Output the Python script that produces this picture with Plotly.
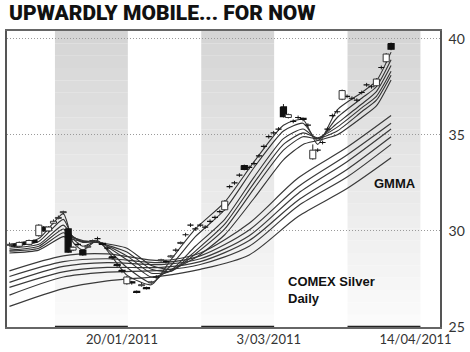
import plotly.graph_objects as go

# ---------------- data ----------------
days = list(range(79))
opens = [29.25,29.3,29.2,29.4,29.3,29.5,29.75,30.2,30.0,30.4,30.65,30.95,30.1,29.0,29.3,29.0,29.15,29.45,29.6,29.35,
         29.1,28.65,28.25,27.95,27.25,27.35,26.85,27.15,27.05,27.3,27.6,28.45,28.4,28.65,29.0,29.35,29.8,30.3,30.1,30.3,
         30.2,30.5,30.7,31.0,31.1,32.3,32.5,32.9,33.4,33.3,33.5,33.9,34.4,34.9,35.1,35.3,36.45,35.9,35.7,35.9,
         35.85,35.5,33.75,34.2,34.6,35.3,36.0,36.2,36.85,37.0,36.9,36.8,37.2,37.6,37.5,37.55,38.5,38.8,39.75]
closes = [29.3,29.2,29.4,29.3,29.5,29.4,30.3,30.0,30.2,30.5,30.7,31.0,28.9,29.15,29.3,28.75,29.2,29.5,29.6,29.3,
          29.1,28.6,28.2,27.9,27.6,27.3,26.8,27.2,27.0,27.35,27.6,28.5,28.4,28.7,29.0,29.4,29.8,30.3,30.1,30.3,
          30.2,30.5,30.7,31.0,31.55,32.3,32.5,32.9,33.2,33.3,33.5,33.9,34.4,34.9,35.1,35.3,35.95,36.05,35.7,35.9,
          35.8,35.5,34.2,34.2,34.6,35.3,36.0,36.2,37.3,37.0,36.9,36.8,37.2,37.6,37.5,37.9,38.5,39.2,39.45]
highs = [29.4,29.35,29.45,29.45,29.55,29.55,30.35,30.25,30.25,30.6,30.8,31.05,30.15,29.2,29.4,29.05,29.3,29.55,29.7,29.4,
         29.2,28.7,28.3,28.0,27.65,27.4,26.9,27.3,27.1,27.4,27.7,28.55,28.5,28.75,29.1,29.45,29.9,30.4,30.2,30.4,
         30.3,30.6,30.8,31.1,31.6,32.4,32.6,33.0,33.45,33.4,33.6,34.0,34.5,35.0,35.2,35.4,36.6,36.1,35.8,36.0,
         35.9,35.6,34.5,34.3,34.7,35.4,36.1,36.3,37.35,37.1,37.0,36.9,37.3,37.7,37.6,37.95,38.6,39.25,39.8]
lows = [29.2,29.15,29.15,29.25,29.25,29.35,29.7,29.95,29.95,30.35,30.6,30.85,28.85,28.95,29.2,28.7,29.1,29.4,29.5,29.25,
        29.0,28.5,28.1,27.8,27.2,27.2,26.75,27.1,26.95,27.25,27.5,28.4,28.3,28.6,28.9,29.3,29.7,30.2,30.0,30.2,
        30.1,30.4,30.6,30.9,31.05,32.2,32.4,32.8,33.15,33.2,33.4,33.8,34.3,34.8,35.0,35.2,35.9,35.85,35.6,35.8,
        35.7,35.4,33.7,34.1,34.5,35.2,35.9,36.1,36.8,36.9,36.8,36.7,37.1,37.5,37.4,37.5,38.4,38.75,39.4]

# GMMA short-term group (read at sample days)
short_days = [0, 6, 11, 13, 15, 18, 24, 29, 33, 38, 44, 50, 56, 60, 63, 67, 72, 75, 78]
short_1 = [29.3,29.6,30.9,29.4,29.0,29.5,27.7,27.2,28.5,30.1,31.5,33.6,35.5,35.8,34.5,36.3,37.2,37.8,39.3]
short_2 = [29.2,29.45,30.6,29.6,29.2,29.45,28.1,27.3,28.2,29.7,31.1,33.3,35.2,35.6,34.7,35.9,36.9,37.5,38.9]
short_3 = [29.1,29.3,30.3,29.7,29.4,29.45,28.5,27.6,27.95,29.2,30.6,32.8,34.8,35.3,34.8,35.6,36.6,37.25,38.6]
short_4 = [29.0,29.2,30.1,29.7,29.45,29.45,28.7,27.8,27.9,28.95,30.35,32.5,34.5,35.1,34.85,35.4,36.4,37.0,38.3]
short_5 = [28.95,29.1,29.9,29.65,29.5,29.4,28.9,28.0,27.9,28.8,30.1,32.2,34.2,34.9,34.8,35.2,36.2,36.8,38.1]
short_6 = [28.85,29.0,29.7,29.55,29.45,29.4,29.1,28.2,28.0,28.6,29.8,31.7,33.7,34.5,34.7,35.0,35.9,36.5,37.85]

# GMMA long-term group
long_days = [0, 11, 20, 31, 39, 49, 59, 69, 78]
long_1 = [27.92,28.7,28.8,28.45,28.85,30.4,32.75,34.35,36.0]
long_2 = [27.63,28.4,28.55,28.35,28.7,30.05,32.3,33.95,35.6]
long_3 = [27.32,28.15,28.35,28.25,28.55,29.75,31.95,33.6,35.3]
long_4 = [27.06,27.87,28.1,28.1,28.4,29.5,31.6,33.2,34.9]
long_5 = [26.66,27.6,27.85,27.95,28.25,29.2,31.3,32.8,34.5]
long_6 = [26.07,27.0,27.4,27.65,28.0,28.75,30.75,32.2,33.8]

tick_days = [23, 53, 83]
tick_labels = ["20/01/2011", "3/03/2011", "14/04/2011"]
y_ticks = [25, 30, 35, 40]
shade_bands = [(9.3, 24.2), (39.2, 54.1), (69.1, 84.0)]

# ---------------- figure ----------------
fig = go.Figure()

for ys in [long_1, long_2, long_3, long_4, long_5, long_6]:
    fig.add_trace(go.Scatter(x=long_days, y=ys, mode="lines",
                             line=dict(color="#3a3a3a", width=1.2, shape="spline", smoothing=0.8),
                             hoverinfo="skip", showlegend=False))
for ys in [short_6, short_5, short_4, short_3, short_2, short_1]:
    fig.add_trace(go.Scatter(x=short_days, y=ys, mode="lines",
                             line=dict(color="#333333", width=1.1, shape="spline", smoothing=0.6),
                             hoverinfo="skip", showlegend=False))

# candles: wicks + bodies (bodies drawn as filled polygons so they sit above the lines)
half_w = 0.62
wx, wy = [], []
ux, uy, dx, dy = [], [], [], []
for d, o, h, l, c in zip(days, opens, highs, lows, closes):
    wx += [d, d, None]
    wy += [l, h, None]
    px = [d - half_w, d + half_w, d + half_w, d - half_w, d - half_w, None]
    py = [o, o, c, c, o, None]
    if c > o:
        ux += px; uy += py
    else:
        dx += px; dy += py

fig.add_trace(go.Scatter(x=wx, y=wy, mode="lines", line=dict(color="#222222", width=1),
                         hoverinfo="skip", showlegend=False))
fig.add_trace(go.Scatter(x=dx, y=dy, mode="lines", fill="toself", fillcolor="#111111",
                         line=dict(color="#111111", width=1.2), hoverinfo="skip", showlegend=False))
fig.add_trace(go.Scatter(x=ux, y=uy, mode="lines", fill="toself", fillcolor="white",
                         line=dict(color="#333333", width=1), hoverinfo="skip", showlegend=False))

shapes = []
n_strips = 24
y0, y1 = 25.0, 40.4
for (a, b) in shade_bands:
    for k in range(n_strips):
        t = k / (n_strips - 1)
        g = int(round(213 + (251 - 213) * t))
        top = y1 - (y1 - y0) * k / n_strips
        bot = y1 - (y1 - y0) * (k + 1) / n_strips
        shapes.append(dict(type="rect", xref="x", yref="y", x0=a, x1=b, y0=bot, y1=top,
                           fillcolor=f"rgb({g},{g},{g})", line=dict(width=0), layer="below"))
    shapes.append(dict(type="line", xref="x", yref="y", x0=a, x1=b, y0=25, y1=25,
                       line=dict(color="#222222", width=2.5), layer="above"))

fig.update_layout(
    width=470, height=352,
    margin=dict(l=5, r=24, t=31, b=24),
    paper_bgcolor="white", plot_bgcolor="white",
    shapes=shapes,
    xaxis=dict(range=[-0.5, 88], tickvals=tick_days, ticktext=tick_labels,
               showgrid=False, zeroline=False, showline=True, mirror=True,
               linecolor="#666666", linewidth=1.5, ticks="",
               tickfont=dict(family="Lato, Liberation Sans, sans-serif", size=13, color="#333333"),
               fixedrange=True),
    yaxis=dict(range=[25, 40.4], side="right", tickvals=y_ticks,
               showgrid=True, gridcolor="#9a9a9a", griddash="1px,2px", gridwidth=1,
               zeroline=False, showline=True, mirror=True, linecolor="#555555", linewidth=1.5,
               ticks="", ticklabelstandoff=4,
               tickfont=dict(family="Lato, Liberation Sans, sans-serif", size=14, color="#333333")),
    annotations=[
        dict(text="UPWARDLY MOBILE... FOR NOW", xref="paper", yref="paper", x=0, y=1.062,
             xanchor="left", yanchor="middle", showarrow=False,
             font=dict(family="Roboto", size=21, color="#111111", weight=900)),
        dict(text="GMMA", xref="x", yref="y", x=74.0, y=32.45, xanchor="left", yanchor="middle",
             showarrow=False, font=dict(family="Liberation Sans, Arial", size=13, color="#111111", weight="bold")),
        dict(text="COMEX Silver<br>Daily", xref="x", yref="y", x=56.6, y=26.95, xanchor="left", yanchor="middle",
             align="left", showarrow=False,
             font=dict(family="Liberation Sans, Arial", size=13, color="#111111", weight="bold")),
    ],
)

fig.write_html("out.html")
